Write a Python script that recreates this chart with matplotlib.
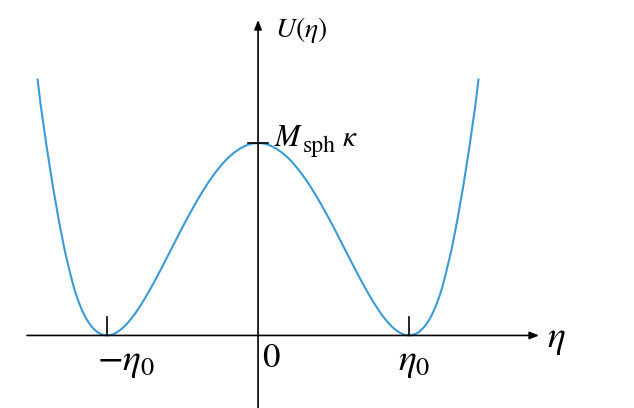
import matplotlib
matplotlib.use("Agg")
import matplotlib.pyplot as plt

plt.rcParams["mathtext.fontset"] = "stix"
plt.rcParams["font.family"] = "STIXGeneral"

# left half of the double well
# (eta in units of eta_0, U in units of M_sph kappa)
eta_left = [-1.46, -1.44, -1.42, -1.40, -1.38, -1.36, -1.34, -1.32, -1.30, -1.28,
            -1.26, -1.24, -1.22, -1.20, -1.18, -1.16, -1.14, -1.12, -1.10, -1.08,
            -1.06, -1.04, -1.02, -1.00, -0.98, -0.96, -0.94, -0.92, -0.90, -0.88,
            -0.86, -0.84, -0.82, -0.80, -0.77, -0.74, -0.71, -0.68, -0.65, -0.62,
            -0.59, -0.56, -0.53, -0.50, -0.47, -0.44, -0.41, -0.38, -0.35, -0.32,
            -0.29, -0.26, -0.23, -0.20, -0.16, -0.12, -0.08, -0.04, 0.0]
u_left = [1.33, 1.20, 1.09, 0.98, 0.88, 0.78, 0.69, 0.60, 0.52, 0.44,
          0.375, 0.31, 0.25, 0.20, 0.158, 0.121, 0.090, 0.065, 0.044, 0.028,
          0.015, 0.007, 0.002, 0.0, 0.002, 0.006, 0.014, 0.024, 0.036, 0.051,
          0.068, 0.087, 0.107, 0.130, 0.166, 0.205, 0.246, 0.289, 0.334, 0.379,
          0.425, 0.471, 0.517, 0.563, 0.607, 0.650, 0.692, 0.732, 0.770, 0.806,
          0.839, 0.869, 0.897, 0.922, 0.949, 0.971, 0.987, 0.997, 1.0]

# the right half is the mirror image
eta = eta_left + [-e for e in eta_left[-2::-1]]
u = u_left + u_left[-2::-1]

tick_eta = [-1.0, 1.0]

fig = plt.figure(figsize=(6.34, 4.08), dpi=100)
ax = fig.add_axes([0, 0, 1, 1])
ax.set_xlim(-1.709, 2.490)
ax.set_ylim(-0.377, 1.743)
ax.axis("off")

arrow = dict(arrowstyle="-|>,head_length=0.55,head_width=0.22", lw=1.2,
             color="black", shrinkA=0, shrinkB=0)
ax.annotate("", xy=(1.861, 0), xytext=(-1.530, 0), arrowprops=arrow)
ax.annotate("", xy=(0, 1.639), xytext=(0, -0.377), arrowprops=arrow)

ax.plot(eta, u, color="#3a9bd6", lw=1.5)

# small ticks at the minima and the barrier top
for e in tick_eta:
    ax.plot([e, e], [0, 0.096], color="black", lw=1.2)
ax.plot([-0.066, 0.066], [1.0, 1.0], color="black", lw=1.2)

ax.text(-0.874, -0.179, r"$-\eta_0$", fontsize=27, ha="center", va="baseline")
ax.text(1.033, -0.179, r"$\eta_0$", fontsize=27, ha="center", va="baseline")
ax.text(0.086, -0.164, r"$0$", fontsize=25, ha="center", va="baseline")
ax.text(1.914, -0.06, r"$\eta$", fontsize=27, ha="left", va="baseline")
ax.text(0.113, 1.552, r"$U(\eta)$", fontsize=20, ha="left", va="baseline")

# M_sph kappa, built from pieces so the subscript keeps its size
ax.text(0.108, 0.984, r"$M$", fontsize=22, ha="left", va="baseline")
ax.text(0.295, 0.953, "sph", fontsize=17, ha="left", va="baseline")
ax.text(0.555, 0.984, r"$\kappa$", fontsize=21, ha="left", va="baseline")

fig.savefig("out.png", dpi=100)
